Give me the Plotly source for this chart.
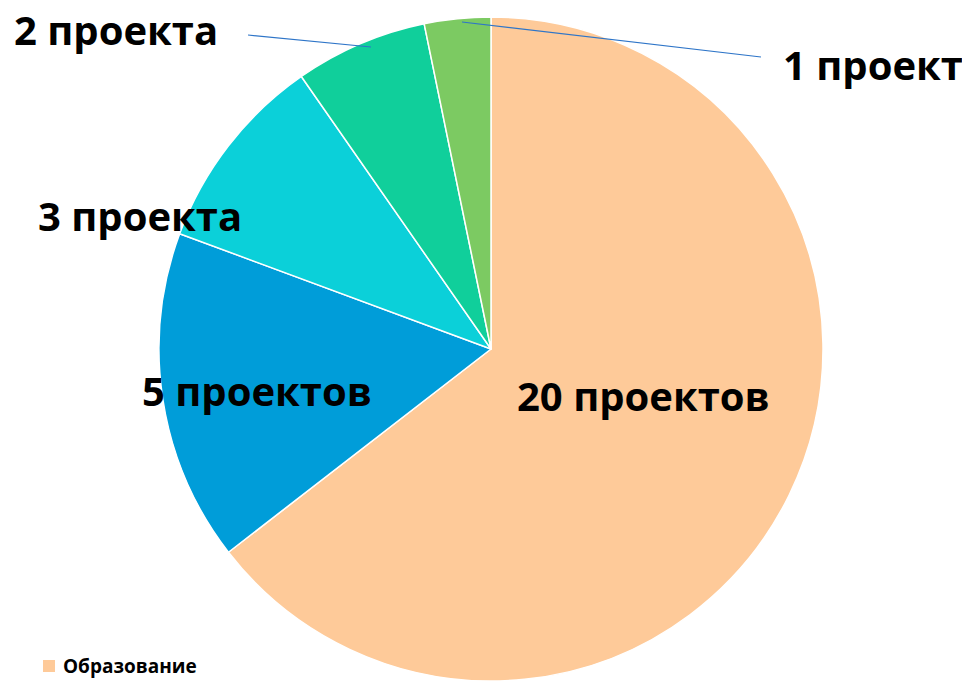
import plotly.graph_objects as go

labels = ["20 проектов", "5 проектов", "3 проекта", "2 проекта", "1 проект"]
values = [20, 5, 3, 2, 1]
colors = ["#FECA99", "#009DD9", "#0BD0D9", "#10CF9B", "#7CCA62"]
legend_label = "Образование"

# page body has an 8px margin; work in window pixels and convert
OFF = 8
W, H = 970 - OFF, 681 - OFF

def px(x, y):
    return (x - OFF) / W, 1 - (y - OFF) / H

def clamp(v):
    return min(1.0, max(0.0, v))

cx, cy, r = 491, 349, 332
fig = go.Figure(go.Pie(
    labels=labels, values=values, sort=False, direction="clockwise", rotation=0,
    marker=dict(colors=colors, line=dict(color="white", width=1.5)),
    textinfo="none", hoverinfo="label+value", showlegend=False,
    domain=dict(x=[clamp((cx - r - OFF) / W), clamp((cx + r - OFF) / W)],
                y=[clamp(1 - (cy + r - OFF) / H), clamp(1 - (cy - r - OFF) / H)]),
))

label_pos = [(643, 396), (257, 390), (140, 215), (116, 30), (873, 64)]
font = dict(family="Open Sans", size=40, color="black", weight="bold")
for lab, (x, y) in zip(labels, label_pos):
    xp, yp = px(x, y)
    fig.add_annotation(x=xp, y=yp, xref="paper", yref="paper", text=lab,
                       showarrow=False, font=font, xanchor="center", yanchor="middle")

for (x0, y0, x1, y1) in [(248, 35, 371, 47), (462, 22, 761, 57)]:
    a0, b0 = px(x0, y0)
    a1, b1 = px(x1, y1)
    fig.add_shape(type="line", xref="paper", yref="paper", x0=a0, y0=b0, x1=a1, y1=b1,
                  line=dict(color="#2E75C8", width=1.2))

# legend entry
s0x, s0y = px(43, 660)
s1x, s1y = px(55, 672)
fig.add_shape(type="rect", xref="paper", yref="paper", x0=s0x, y0=s0y, x1=s1x, y1=s1y,
              fillcolor=colors[0], line=dict(width=0))
lx, ly = px(61, 666)
fig.add_annotation(x=lx, y=ly, xref="paper", yref="paper", text=legend_label,
                   showarrow=False, font=dict(family="Open Sans", size=19, color="black", weight="bold"),
                   xanchor="left", yanchor="middle")

fig.update_layout(width=W, height=H, margin=dict(l=0, r=0, t=0, b=0),
                  paper_bgcolor="white", plot_bgcolor="white")
fig.write_html("out.html")
